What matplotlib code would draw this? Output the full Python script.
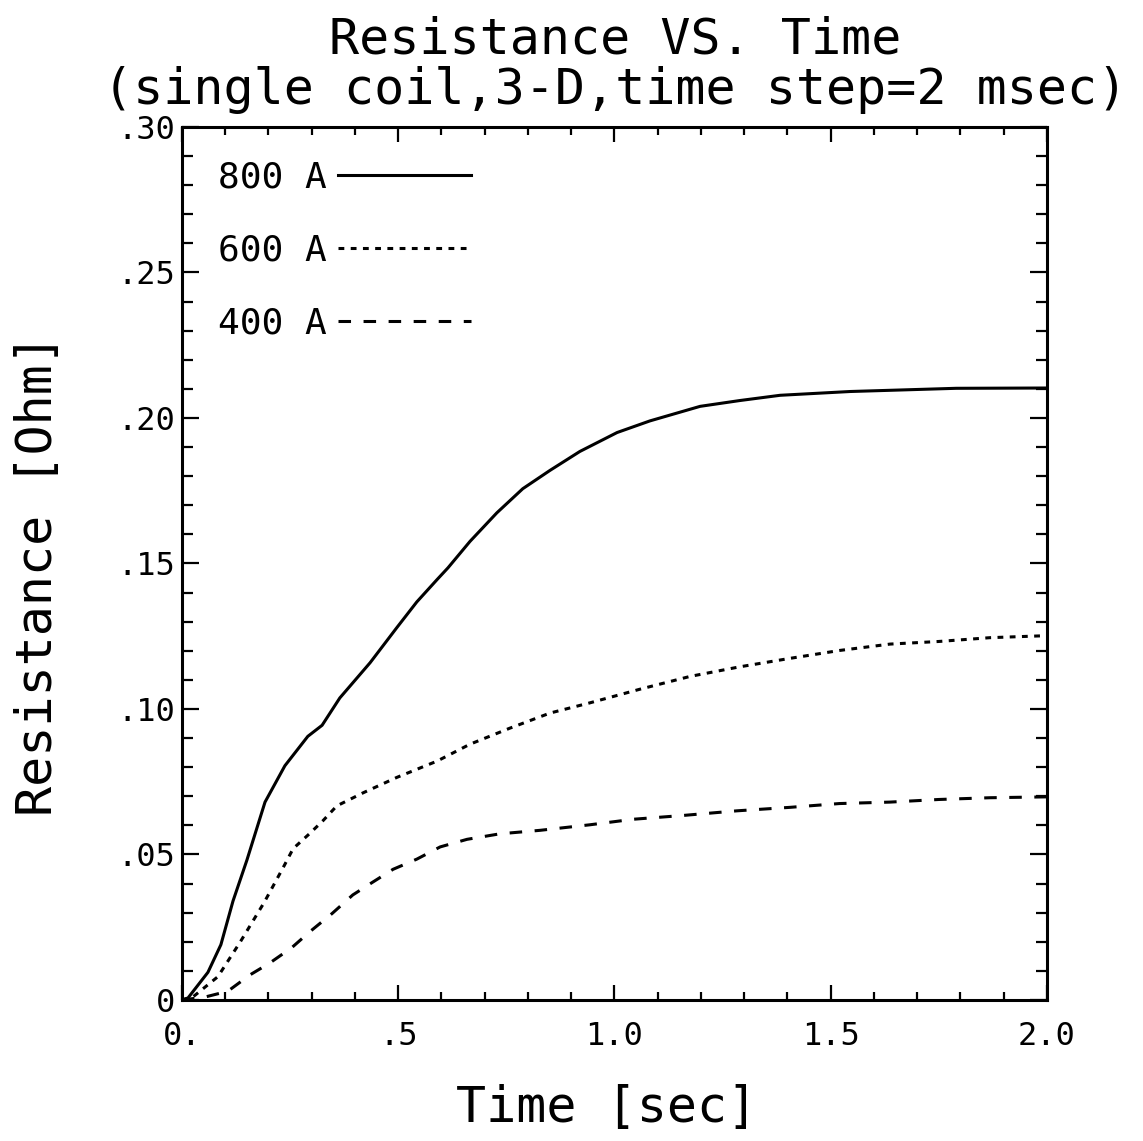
import matplotlib
matplotlib.use("Agg")
import matplotlib.pyplot as plt
from matplotlib.ticker import MultipleLocator, FixedLocator, FixedFormatter

# values
time_800 = [0, 0.014, 0.06, 0.09, 0.118, 0.15, 0.192, 0.238, 0.291, 0.324, 0.365,
            0.435, 0.497, 0.543, 0.59, 0.615, 0.666, 0.728, 0.788, 0.851, 0.92,
            1.006, 1.082, 1.198, 1.29, 1.383, 1.545, 1.79, 2.0]
res_800 = [0, 0.0007, 0.0095, 0.019, 0.034, 0.048, 0.068, 0.0805, 0.0906, 0.0944, 0.1038,
           0.1159, 0.128, 0.1368, 0.1445, 0.1485, 0.1576, 0.1674, 0.1757, 0.182, 0.1885,
           0.195, 0.199, 0.204, 0.206, 0.2078, 0.2091, 0.2102, 0.2103]

time_600 = [0, 0.025, 0.083, 0.135, 0.19, 0.234, 0.257, 0.296, 0.326, 0.358, 0.419,
            0.497, 0.59, 0.666, 0.758, 0.851, 0.943, 1.059, 1.175, 1.29, 1.406,
            1.52, 1.637, 1.75, 1.868, 2.0]
res_600 = [0, 0.001, 0.008, 0.020, 0.0335, 0.0455, 0.052, 0.0573, 0.0616, 0.0667, 0.0712,
           0.0765, 0.0821, 0.0879, 0.0934, 0.0986, 0.1021, 0.1068, 0.1112, 0.1145, 0.1174,
           0.1201, 0.1223, 0.1232, 0.1245, 0.1252]

time_400 = [0, 0.053, 0.106, 0.157, 0.203, 0.254, 0.296, 0.347, 0.395, 0.439, 0.488,
            0.543, 0.597, 0.659, 0.735, 0.828, 0.943, 1.043, 1.158, 1.283, 1.406,
            1.52, 1.637, 1.75, 1.868, 2.0]
res_400 = [0, 0.001, 0.003, 0.0086, 0.0127, 0.018, 0.0235, 0.0297, 0.0361, 0.0403, 0.0449,
           0.0484, 0.0526, 0.0552, 0.0571, 0.0583, 0.0602, 0.0621, 0.0634, 0.065, 0.0662,
           0.0675, 0.068, 0.0689, 0.0695, 0.0698]

labels = ["800 A", "600 A", "400 A"]

x_ticks = [0, 0.5, 1.0, 1.5, 2.0]
x_ticklabels = ["0.", ".5", "1.0", "1.5", "2.0"]
y_ticks = [0, 0.05, 0.10, 0.15, 0.20, 0.25, 0.30]
y_ticklabels = ["0", ".05", ".10", ".15", ".20", ".25", ".30"]

plt.rcParams['font.family'] = ['DejaVu Sans Mono']

fig = plt.figure(figsize=(11.43, 11.41), dpi=100)
ax = fig.add_axes([0.1592, 0.1236, 0.7568, 0.7651])

lw = 2.2
ax.plot(time_800, res_800, color='black', lw=lw, linestyle='-', label=labels[0])
ax.plot(time_600, res_600, color='black', lw=lw, linestyle=(0, (1.9, 2.1)), label=labels[1])
ax.plot(time_400, res_400, color='black', lw=lw, linestyle=(0, (4.1, 4.1)), label=labels[2])

ax.set_xlim(0, 2.0)
ax.set_ylim(0, 0.30)

ax.xaxis.set_major_locator(FixedLocator(x_ticks))
ax.xaxis.set_major_formatter(FixedFormatter(x_ticklabels))
ax.xaxis.set_minor_locator(MultipleLocator(0.1))
ax.yaxis.set_major_locator(FixedLocator(y_ticks))
ax.yaxis.set_major_formatter(FixedFormatter(y_ticklabels))
ax.yaxis.set_minor_locator(MultipleLocator(0.01))

ax.tick_params(which='both', direction='in', top=True, right=True, width=1.6, color='black')
ax.tick_params(axis='x', which='major', length=11, pad=15, labelsize=23)
ax.tick_params(axis='x', which='minor', length=6)
ax.tick_params(axis='y', which='major', length=12, pad=5, labelsize=23)
ax.tick_params(axis='y', which='minor', length=8)

for sp in ax.spines.values():
    sp.set_linewidth(2.2)

leg = ax.legend(loc='upper left', bbox_to_anchor=(0.042, 0.962), frameon=False,
                markerfirst=False, fontsize=26, handlelength=3.7, handletextpad=0.3,
                labelspacing=1.09, borderpad=0, borderaxespad=0)

# title, two lines
fig.text(0.538, 1 - 53 / 1141, "Resistance VS. Time", fontsize=36,
         ha='center', va='baseline')
fig.text(0.538, 1 - 104 / 1141, "(single coil,3-D,time step=2 msec)", fontsize=36,
         ha='center', va='baseline')

fig.text(0.531, 1 - 1108 / 1141, "Time [sec]", fontsize=36, ha='center', va='center')
fig.text(38 / 1143, 1 - 575 / 1141, "Resistance [Ohm]", fontsize=36,
         rotation=90, ha='center', va='center')

fig.savefig("out.png", dpi=100)
